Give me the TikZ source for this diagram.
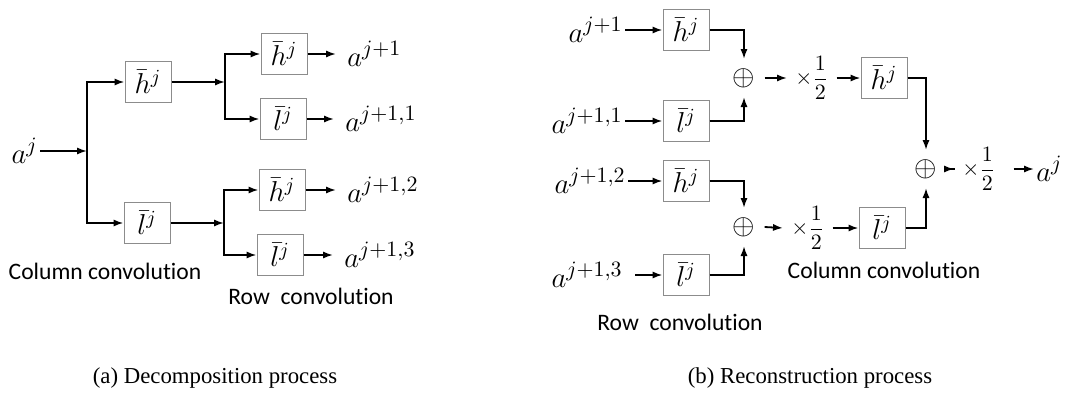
\documentclass[tikz,border=0pt]{standalone}
\usepackage{amsmath}
\usepackage{fontspec}
\setmainfont{Liberation Serif}
\newfontfamily\calfont[Ligatures=NoCommon]{Carlito}
\usetikzlibrary{arrows.meta}

\begin{document}
\begin{tikzpicture}[x=.5pt,y=-.5pt,
  filt/.style={draw=black!45,line width=.5pt,minimum width=23pt,minimum height=20.5pt,inner sep=0pt,font=\fontsize{14.5}{16}\selectfont},
  sig/.style={inner sep=1pt,font=\fontsize{15}{17}\selectfont},
  sum/.style={inner sep=4.5pt,font=\fontsize{14}{16}\selectfont},
  half/.style={anchor=west,inner sep=4pt,font=\fontsize{11}{13}\selectfont},
  note/.style={font=\calfont\fontsize{11.8}{14}\selectfont},
  capt/.style={font=\fontsize{11.4}{13}\selectfont},
  wire/.style={line width=.9pt},
  flow/.style={wire,-{Latex[length=5pt,width=3.6pt]}}]
\useasboundingbox (0,0) rectangle (1073,396);

% (a) decomposition
\node[sig,anchor=east] (aj) at (40,151) {$a^j$};
\coordinate (ja) at (87,151);
\node[filt] (h1) at (148,82) {$\bar{h}^j$};
\node[filt] (l1) at (147,223) {$\bar{l}^j$};
\coordinate (jb) at (225,82);
\coordinate (jc) at (224,223);
\node[filt] (h2) at (284,54) {$\bar{h}^j$};
\node[filt] (l2) at (283,119) {$\bar{l}^j$};
\node[filt] (h3) at (282,190) {$\bar{h}^j$};
\node[filt] (l3) at (280,255) {$\bar{l}^j$};
\node[sig,anchor=west] (o1) at (345,54) {$a^{j+1}$};
\node[sig,anchor=west] (o2) at (343,119) {$a^{j+1,1}$};
\node[sig,anchor=west] (o3) at (345,190) {$a^{j+1,2}$};
\node[sig,anchor=west] (o4) at (342,255) {$a^{j+1,3}$};
\draw[flow] (aj.east) -- (ja);
\draw[flow] (ja) |- (h1.west);
\draw[flow] (ja) |- (l1.west);
\draw[flow] (h1.east) -- (jb);
\draw[flow] (l1.east) -- (jc);
\draw[flow] (jb) |- (h2.west);
\draw[flow] (jb) |- (l2.west);
\draw[flow] (jc) |- (h3.west);
\draw[flow] (jc) |- (l3.west);
\draw[flow,shorten >=4.5pt] (h2.east) -- (o1.west);
\draw[flow,shorten >=4.5pt] (l2.east) -- (o2.west);
\draw[flow,shorten >=4.5pt] (h3.east) -- (o3.west);
\draw[flow,shorten >=4.5pt] (l3.east) -- (o4.west);
\node[note] (colA) at (105,271) {Column convolution};
\node[note] (rowA) at (311,296) {Row~ convolution};
\node[capt] (capA) at (215,378) {(a) Decomposition process};

% (b) reconstruction
\node[sig,anchor=east] (b1) at (625,30) {$a^{j+1}$};
\node[sig,anchor=east] (b2) at (625,121) {$a^{j+1,1}$};
\node[sig,anchor=east] (b3) at (628,181) {$a^{j+1,2}$};
\node[sig,anchor=east] (b4) at (625,275) {$a^{j+1,3}$};
\node[filt] (hA) at (686,30) {$\bar{h}^j$};
\node[filt] (lA) at (686,121) {$\bar{l}^j$};
\node[filt] (hC) at (686,181) {$\bar{h}^j$};
\node[filt] (lC) at (686,275) {$\bar{l}^j$};
\node[sum] (p1) at (744,78) {$\oplus$};
\node[sum] (p3) at (744,227) {$\oplus$};
\node[half] (m1) at (787,78) {$\times\dfrac{1}{2}$};
\node[half] (m3) at (783,228) {$\times\dfrac{1}{2}$};
\node[filt] (hB) at (884,78) {$\bar{h}^j$};
\node[filt] (lD) at (882,228) {$\bar{l}^j$};
\node[sum] (p2) at (926,169) {$\oplus$};
\node[half] (m2) at (954,169) {$\times\dfrac{1}{2}$};
\node[sig,anchor=west] (aout) at (1034,169) {$a^j$};
\draw[flow] (b1.east) -- (hA.west);
\draw[flow] (b2.east) -- (lA.west);
\draw[flow] (b3.east) -- (hC.west);
\draw[flow,shorten <=5pt] (b4.east) -- (lC.west);
\draw[flow] (hA.east) -| (p1.north);
\draw[flow] (lA.east) -| (p1.south);
\draw[flow] (hC.east) -| (p3.north);
\draw[flow] (lC.east) -| (p3.south);
\draw[flow] (p1.east) -- (m1.west);
\draw[flow] (m1.east) -- (hB.west);
\draw[flow] (p3.east) -- (m3.west);
\draw[flow] (m3.east) -- (lD.west);
\draw[flow] (hB.east) -| (p2.north);
\draw[flow] (lD.east) -| (p2.south);
\draw[flow,shorten <=-4pt] (p2.east) -- (m2.west);
\draw[flow,shorten <=5pt] (m2.east) -- (aout.west);
\node[note] (colB) at (884,270) {Column convolution};
\node[note] (rowB) at (680,322) {Row~ convolution};
\node[capt] (capB) at (810,378) {(b) Reconstruction process};
\end{tikzpicture}
\end{document}
